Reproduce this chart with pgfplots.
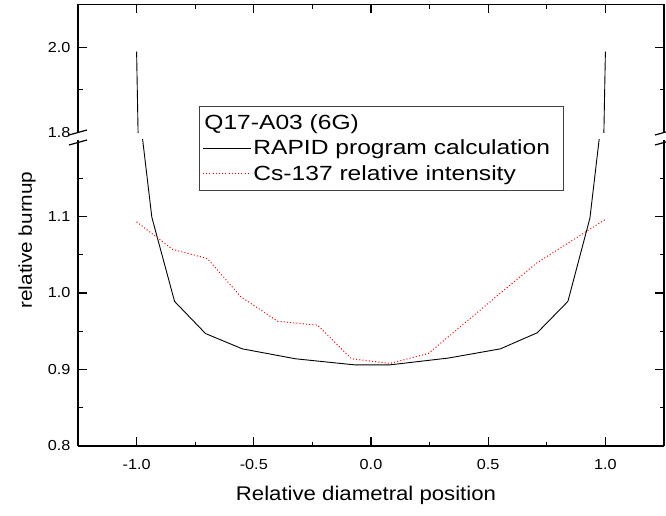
\documentclass[border=0pt]{standalone}
\usepackage{pgfplots}
\pgfplotsset{compat=1.18}
\usepackage{fontspec}
\setmainfont{Liberation Sans}[FakeStretch=1.12]
\newfontfamily\legfam{Liberation Sans}[FakeStretch=1.2]

\newcommand\tickfont{\fontsize{14.5}{17}\selectfont}
\newcommand\labfont{\fontsize{18.5}{22}\selectfont}
\newcommand\xlabfont{\fontsize{19.8}{23}\selectfont}
\newcommand\legfont{\legfam\fontsize{20.5}{24}\selectfont}

% RAPID program calculation
\pgfplotstableread{
x y
-1.000 1.990
-0.974 1.200
-0.935 1.099
-0.838 0.989
-0.706 0.947
-0.549 0.927
-0.322 0.914
-0.068 0.906
0.078 0.906
0.331 0.915
0.552 0.927
0.709 0.948
0.840 0.989
0.934 1.098
0.973 1.200
1.000 1.990
}\rapid

% Cs-137 relative intensity
\pgfplotstableread{
x y
-1.000 1.093
-0.846 1.057
-0.698 1.045
-0.555 0.995
-0.398 0.963
-0.228 0.958
-0.083 0.914
0.081 0.908
0.245 0.921
0.545 0.998
0.706 1.039
1.004 1.097
}\cesium

\pgfplotsset{
  brk/.style={
    scale only axis, width=586pt,
    xmin=-1.25, xmax=1.25,
    axis line style={-, line width=1.4pt},
    every tick/.style={black, line width=1.1pt},
    major tick length=9pt, minor tick length=4.5pt,
    tick align=inside,
    xtick={-1,-0.5,0,0.5,1},
    minor xtick={-0.75,-0.25,0.25,0.75},
    ytick pos=both, yticklabel pos=left,
    tick label style={font=\tickfont},
    yticklabel style={xshift=-4pt},
    xticklabel style={yshift=-10pt},
  }
}

\begin{document}
\begin{tikzpicture}
\path[use as bounding box] (0,0) rectangle (666pt,515pt);

\begin{axis}[brk, name=upper,
  at={(78pt,382.5pt)}, anchor=south west, height=128pt,
  ymin=1.8, ymax=2.1007,
  axis x line*=top, axis y line*=box, xtick pos=right,
  xticklabels={},
  ytick={2.0}, yticklabels={2.0}, minor ytick={1.9},
  extra y ticks={1.8}, extra y tick labels={1.8},
  extra y tick style={major tick length=0pt},
]
\addplot[black, line width=0.9pt] table {\rapid};
\end{axis}

\begin{axis}[brk, name=lower,
  at={(78pt,69pt)}, anchor=south west, height=306pt,
  ymin=0.8, ymax=1.2,
  axis x line*=bottom, axis y line*=box, xtick pos=left,
  xticklabels={-1.0,-0.5,0.0,0.5,1.0},
  ytick={0.8,0.9,1.0,1.1}, yticklabels={0.8,0.9,1.0,1.1},
  minor ytick={0.85,0.95,1.05,1.15},
  legend style={at={(axis description cs:0.2065,1.111)}, anchor=north west,
    draw=black!75, line width=0.8pt, fill=white, font=\legfont,
    nodes={inner ysep=4.6pt}, row sep=0pt, inner xsep=3pt, inner ysep=3.5pt},
  legend cell align=left,
  legend image code/.code={\draw[#1] (0pt,0pt) -- (48pt,0pt);},
]
\addlegendimage{empty legend}
\addlegendentry{\hspace*{-49pt}Q17-A03 (6G)}
\addplot[black, line width=0.9pt] table {\rapid};
\addlegendentry{RAPID program calculation\hspace*{8pt}}
\addplot[red, line width=1pt, dash pattern=on 1pt off 2.2pt] table {\cesium};
\addlegendentry{Cs-137 relative intensity}
\end{axis}

% axis break marks
\foreach \a/\b in {lower.north west/upper.south west, lower.north east/upper.south east}{
  \draw[line width=1.2pt] ([shift={(-9pt,-5pt)}]\a) -- ([shift={(9pt,0pt)}]\a);
  \draw[line width=1.2pt] ([shift={(-9pt,-2.5pt)}]\b) -- ([shift={(9pt,2.5pt)}]\b);
}

\node[font=\labfont, rotate=90] at (27pt,275pt) {relative burnup};
\node[font=\xlabfont, anchor=base] at (366pt,15pt) {Relative diametral position};
\end{tikzpicture}
\end{document}
